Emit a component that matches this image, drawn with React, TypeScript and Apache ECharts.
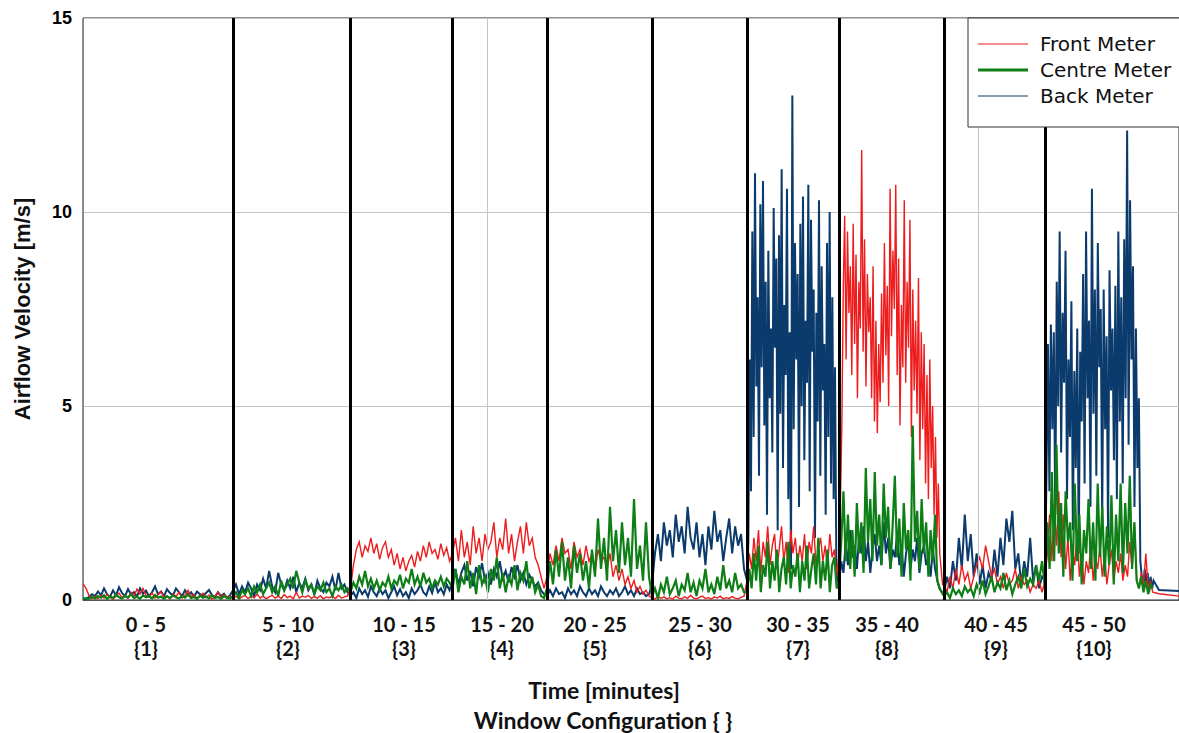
import React, { useEffect, useRef } from 'react';
import * as echarts from 'echarts';

// Time axis (minutes): start of each window configuration, end of the record
const windowStarts = [0, 7.5, 13.375, 18.475, 23.2, 28.45, 33.2, 37.8, 43.05, 48.1];
const recordEnd = 53.6;
const axisEnd = 54.8;

// Window labels shown under the time axis
const windowRanges = ['0 - 5', '5 - 10', '10 - 15', '15 - 20', '20 - 25', '25 - 30', '30 - 35', '35 - 40', '40 - 45', '45 - 50'];
const windowConfigs = ['{1}', '{2}', '{3}', '{4}', '{5}', '{6}', '{7}', '{8}', '{9}', '{10}'];
const labelTimes = [3.15, 10.25, 16.05, 20.95, 25.6, 30.85, 35.75, 40.2, 45.65, 50.55];
const dividerTimes = windowStarts.slice(1);
const gridTimes = [20.2, 44.75];

// Velocity axis (m/s)
const yMin = 0;
const yMax = 15;
const yStep = 5;

// Front meter readings, one list per window
const frontW1 = [0.42, 0.3, 0.12, 0.03, 0.1, 0.03, 0.12, 0.05, 0.15, 0.08, 0.02, 0.1, 0.18, 0.06, 0.12, 0.04, 0.2, 0.1, 0.28, 0.15, 0.3, 0.12, 0.08, 0.18, 0.05, 0.14, 0.22, 0.07, 0.1, 0.03, 0.16, 0.09, 0.2, 0.05, 0.12, 0.25, 0.08, 0.15, 0.04, 0.1, 0.18, 0.06, 0.13, 0.02, 0.09, 0.2, 0.07, 0.14, 0.05, 0.1];
const frontW2 = [0.05, 0.1, 0.03, 0.08, 0.12, 0.04, 0.1, 0.06, 0.15, 0.05, 0.1, 0.03, 0.08, 0.12, 0.05, 0.1, 0.04, 0.14, 0.06, 0.1, 0.03, 0.2, 0.05, 0.1, 0.07, 0.12, 0.04, 0.09, 0.05, 0.11, 0.03, 0.08, 0.06, 0.1, 0.04, 0.12, 0.05, 0.08, 0.1];
const frontW3 = [0.3, 0.9, 1.3, 1.5, 1.1, 1.4, 1.25, 1.6, 1.2, 1.45, 1.05, 1.35, 1.5, 1.1, 1.3, 0.9, 1.2, 0.8, 1.1, 0.75, 1.0, 1.15, 0.85, 1.25, 1.0, 1.4, 1.1, 1.5, 1.2, 1.3, 1.05, 1.45, 1.15, 1.35, 1.0];
const frontW4 = [1.2, 1.6, 1.0, 1.8, 1.1, 1.5, 0.9, 1.9, 1.2, 1.6, 1.0, 1.7, 1.3, 1.5, 2.0, 1.1, 1.6, 1.3, 2.1, 1.2, 1.7, 1.0, 1.5, 1.9, 1.2, 2.0, 1.4, 1.6, 1.1, 0.9, 0.6, 0.3];
const frontW5 = [0.6, 1.2, 0.9, 1.4, 1.0, 1.6, 1.2, 1.3, 0.8, 1.5, 1.1, 1.3, 0.9, 1.4, 1.0, 1.2, 0.7, 1.3, 1.0, 1.1, 0.8, 1.2, 0.6, 0.9, 0.5, 0.8, 0.4, 0.6, 0.3, 0.5, 0.2, 0.35, 0.15, 0.25, 0.1];
const frontW6 = [0.05, 0.02, 0.1, 0.04, 0.08, 0.03, 0.06, 0.02, 0.1, 0.05, 0.03, 0.08, 0.04, 0.12, 0.05, 0.03, 0.07, 0.1, 0.04, 0.06, 0.02, 0.08, 0.05, 0.1, 0.03, 0.06, 0.04, 0.09, 0.05, 0.03, 0.07, 0.1];
const frontW7 = [0.5, 1.2, 0.8, 1.6, 1.0, 1.8, 0.7, 1.5, 1.1, 1.9, 0.9, 1.4, 1.7, 0.8, 1.3, 1.9, 1.0, 1.5, 0.7, 1.8, 1.2, 1.6, 0.9, 1.4, 1.0, 1.7, 0.8, 1.5, 1.2, 1.9, 0.9, 1.3, 1.6, 1.0, 1.4, 0.8, 1.7, 1.1, 1.3, 0.6];
const frontW8 = [1.2, 2.5, 4.5, 8.0, 9.9, 6.2, 9.5, 7.4, 8.6, 5.8, 9.7, 6.6, 8.9, 5.2, 8.2, 7.0, 11.6, 6.4, 9.3, 5.5, 8.4, 6.9, 7.8, 5.2, 8.6, 4.6, 7.2, 4.3, 6.6, 5.1, 7.9, 5.6, 9.2, 6.3, 8.1, 5.0, 10.6, 6.8, 9.0, 7.5, 10.7, 5.8, 8.8, 4.5, 7.6, 6.0, 10.3, 5.6, 8.2, 6.5, 9.8, 4.2, 8.0, 5.4, 7.2, 4.8, 8.3, 3.6, 6.9, 4.4, 6.6, 3.0, 5.8, 2.6, 6.2, 3.4, 5.0, 2.2, 4.2, 1.6, 3.0, 1.2, 0.8, 0.4];
const frontW9 = [0.4, 0.2, 0.6, 0.3, 0.8, 0.4, 0.9, 0.5, 0.7, 0.3, 0.6, 0.9, 1.1, 0.8, 1.4, 1.0, 0.6, 0.8, 0.4, 0.6, 0.3, 0.7, 0.4, 0.5, 0.8, 0.3, 0.6, 0.4, 0.5, 0.2, 0.4, 0.3, 0.5, 0.2];
const frontW10 = [0.5, 1.2, 2.2, 1.0, 2.5, 1.4, 2.8, 1.1, 2.2, 0.8, 1.6, 0.5, 1.3, 0.9, 1.8, 0.6, 1.2, 0.4, 1.0, 0.7, 1.5, 0.5, 1.1, 0.8, 1.4, 0.6, 1.2, 0.4, 0.9, 1.3, 0.5, 1.0, 0.7, 1.2, 0.5, 0.9, 0.6, 1.5, 0.8, 2.0, 0.5, 0.3, 0.7, 0.4, 1.2, 0.3, 0.5, 0.2];

// Centre meter readings, one list per window
const centreW1 = [0.02, 0.05, 0.03, 0.08, 0.04, 0.1, 0.06, 0.12, 0.03, 0.09, 0.05, 0.14, 0.07, 0.04, 0.11, 0.06, 0.15, 0.05, 0.09, 0.03, 0.12, 0.07, 0.1, 0.04, 0.13, 0.06, 0.09, 0.03, 0.1, 0.05, 0.12, 0.07, 0.04, 0.1, 0.06, 0.14, 0.05, 0.08, 0.03, 0.11, 0.06, 0.09, 0.04, 0.12, 0.05, 0.08, 0.03, 0.1, 0.06, 0.04];
const centreW2 = [0.1, 0.2, 0.05, 0.25, 0.15, 0.3, 0.1, 0.35, 0.2, 0.4, 0.15, 0.3, 0.45, 0.2, 0.35, 0.1, 0.5, 0.25, 0.4, 0.55, 0.3, 0.75, 0.45, 0.2, 0.5, 0.3, 0.4, 0.15, 0.35, 0.25, 0.45, 0.2, 0.3, 0.1, 0.35, 0.25, 0.4, 0.2, 0.3];
const centreW3 = [0.2, 0.45, 0.3, 0.6, 0.4, 0.75, 0.35, 0.55, 0.3, 0.5, 0.25, 0.45, 0.35, 0.6, 0.3, 0.5, 0.4, 0.65, 0.3, 0.55, 0.45, 0.8, 0.4, 0.6, 0.35, 0.7, 0.45, 0.55, 0.3, 0.5, 0.4, 0.6, 0.35, 0.55, 0.45];
const centreW4 = [0.3, 0.8, 0.2, 0.6, 0.4, 1.0, 0.3, 0.7, 0.15, 0.9, 0.4, 0.6, 0.2, 0.8, 0.5, 1.1, 0.3, 0.7, 0.2, 0.6, 0.4, 0.9, 0.25, 0.7, 0.5, 1.0, 0.3, 0.6, 0.2, 0.4, 0.1, 0.05];
const centreW5 = [0.3, 1.0, 0.4, 1.3, 0.6, 1.5, 0.5, 1.1, 0.3, 1.4, 0.7, 1.2, 0.5, 1.0, 0.3, 1.3, 0.6, 2.1, 0.8, 1.6, 0.5, 2.4, 1.0, 1.8, 0.7, 2.0, 0.9, 1.6, 0.6, 2.6, 0.8, 1.4, 0.5, 2.0, 0.6];
const centreW6 = [0.1, 0.3, 0.05, 0.4, 0.2, 0.6, 0.15, 0.3, 0.5, 0.1, 0.4, 0.25, 0.7, 0.2, 0.45, 0.1, 0.5, 0.3, 0.8, 0.2, 0.4, 0.15, 0.6, 0.25, 0.9, 0.3, 0.5, 0.2, 0.7, 0.3, 0.4, 0.2];
const centreW7 = [0.2, 0.8, 0.3, 1.2, 0.5, 1.4, 0.2, 0.9, 0.6, 1.5, 0.3, 1.0, 0.5, 1.3, 0.2, 0.8, 1.1, 0.4, 1.5, 0.3, 0.9, 0.6, 1.2, 0.2, 1.0, 0.5, 1.4, 0.3, 0.8, 1.2, 0.4, 1.6, 0.3, 1.0, 0.5, 1.3, 0.2, 0.9, 1.1, 0.3];
const centreW8 = [0.5, 1.5, 2.8, 1.0, 2.2, 0.8, 1.8, 0.6, 2.5, 1.2, 2.0, 0.7, 3.4, 1.5, 2.6, 1.0, 3.3, 1.4, 2.2, 0.9, 3.0, 1.6, 2.4, 0.8, 1.9, 3.2, 1.1, 2.1, 0.6, 2.5, 1.3, 1.8, 0.5, 4.5, 1.5, 2.3, 0.8, 2.6, 1.2, 2.0, 0.6, 1.8, 1.0, 2.2, 0.5, 0.3, 0.2];
const centreW9 = [0.1, 0.2, 0.05, 0.3, 0.15, 0.25, 0.1, 0.35, 0.2, 0.3, 0.1, 0.4, 0.2, 0.5, 0.15, 0.35, 0.6, 0.2, 0.45, 0.3, 0.7, 0.25, 0.5, 0.15, 0.4, 0.6, 0.3, 0.8, 0.35, 0.55, 0.4, 0.9, 0.5, 1.0];
const centreW10 = [0.3, 2.0, 0.8, 3.3, 1.0, 4.0, 1.2, 2.5, 0.6, 2.8, 1.5, 2.0, 0.5, 3.0, 1.0, 2.2, 0.4, 1.8, 1.2, 2.6, 0.8, 2.0, 0.5, 3.0, 1.1, 2.4, 0.6, 1.9, 0.9, 2.7, 0.4, 2.2, 1.0, 3.0, 0.7, 2.5, 1.2, 3.2, 0.8, 2.0, 0.5, 0.3, 0.6, 0.2, 0.5, 0.15, 0.4, 0.3];

// Back meter readings, one list per window
const backW1 = [0.05, 0.02, 0.08, 0.15, 0.1, 0.22, 0.12, 0.3, 0.15, 0.08, 0.25, 0.12, 0.33, 0.18, 0.1, 0.28, 0.14, 0.2, 0.09, 0.3, 0.16, 0.24, 0.1, 0.2, 0.35, 0.15, 0.22, 0.1, 0.28, 0.18, 0.12, 0.3, 0.2, 0.1, 0.25, 0.14, 0.2, 0.08, 0.22, 0.15, 0.1, 0.18, 0.26, 0.12, 0.08, 0.2, 0.1, 0.16, 0.05, 0.12];
const backW2 = [0.25, 0.4, 0.15, 0.35, 0.2, 0.45, 0.3, 0.1, 0.4, 0.25, 0.55, 0.3, 0.75, 0.35, 0.2, 0.7, 0.4, 0.25, 0.5, 0.3, 0.6, 0.2, 0.45, 0.3, 0.55, 0.25, 0.4, 0.15, 0.5, 0.3, 0.2, 0.45, 0.35, 0.6, 0.25, 0.7, 0.3, 0.4, 0.2];
const backW3 = [0.1, 0.2, 0.05, 0.3, 0.15, 0.25, 0.08, 0.35, 0.2, 0.1, 0.3, 0.15, 0.25, 0.05, 0.2, 0.35, 0.12, 0.28, 0.1, 0.2, 0.05, 0.3, 0.15, 0.25, 0.4, 0.2, 0.12, 0.35, 0.18, 0.45, 0.2, 0.3, 0.15, 0.4, 0.25];
const backW4 = [0.5, 0.8, 0.4, 0.7, 0.9, 0.5, 0.75, 0.35, 0.85, 0.6, 0.95, 0.5, 0.7, 0.4, 0.8, 0.6, 1.0, 0.55, 0.75, 0.45, 0.85, 0.6, 0.9, 0.5, 0.7, 0.4, 0.65, 0.5, 0.35, 0.45, 0.25, 0.15];
const backW5 = [0.1, 0.25, 0.1, 0.3, 0.15, 0.2, 0.05, 0.3, 0.15, 0.25, 0.1, 0.35, 0.2, 0.1, 0.3, 0.15, 0.25, 0.1, 0.35, 0.2, 0.1, 0.25, 0.15, 0.3, 0.1, 0.2, 0.35, 0.15, 0.25, 0.1, 0.3, 0.15, 0.2, 0.1, 0.15];
const backW6 = [0.4, 1.2, 1.7, 1.0, 2.0, 1.4, 1.8, 1.1, 2.2, 1.5, 1.9, 1.2, 2.4, 1.6, 1.3, 2.0, 1.1, 1.7, 0.9, 1.9, 1.3, 2.3, 1.5, 1.8, 1.0, 1.6, 2.1, 1.2, 1.9, 1.4, 1.7, 0.8];
const backW7 = [0.5, 1.5, 6.2, 2.8, 9.5, 4.2, 11.0, 5.5, 7.8, 3.2, 10.2, 6.0, 10.8, 4.5, 8.2, 2.2, 9.0, 5.2, 7.0, 3.8, 10.1, 6.5, 8.8, 1.8, 9.4, 4.8, 11.1, 3.4, 7.6, 5.8, 10.6, 2.6, 6.9, 0.8, 13.0, 4.4, 9.2, 6.2, 8.4, 2.4, 9.7, 5.0, 10.4, 3.6, 7.2, 5.6, 10.7, 2.8, 9.8, 6.4, 8.0, 1.6, 7.4, 4.6, 10.3, 3.2, 8.6, 5.4, 6.6, 2.2, 9.2, 4.2, 10.0, 3.0, 7.8, 2.6, 6.0, 1.0, 0.5];
const backW8 = [0.4, 1.0, 0.7, 1.5, 0.9, 1.8, 1.1, 1.4, 0.8, 1.6, 1.2, 1.9, 1.0, 1.5, 0.7, 1.3, 1.7, 1.0, 1.4, 0.9, 2.0, 1.2, 1.6, 0.8, 1.3, 1.1, 1.7, 0.9, 1.4, 0.6, 1.2, 1.5, 0.8, 1.3, 1.0, 1.6, 0.7, 1.2, 1.4, 0.9, 1.1, 0.6, 1.3, 0.8, 0.5, 0.3, 0.2];
const backW9 = [0.2, 0.6, 0.3, 1.0, 0.5, 1.6, 0.8, 2.2, 1.0, 1.7, 0.6, 1.2, 0.4, 0.9, 0.3, 0.7, 0.5, 1.3, 0.6, 1.6, 0.9, 2.1, 1.5, 2.3, 0.8, 1.2, 0.4, 1.0, 0.6, 1.6, 0.5, 0.9, 0.3, 0.6];
const backW10 = [0.5, 3.2, 6.6, 2.8, 7.1, 4.4, 6.9, 2.2, 8.2, 5.0, 9.5, 3.8, 7.4, 5.6, 9.0, 2.6, 6.2, 4.2, 7.7, 1.8, 5.9, 3.4, 7.0, 1.2, 6.4, 4.6, 8.4, 3.0, 9.5, 5.2, 7.2, 2.4, 10.6, 4.8, 8.0, 3.2, 9.2, 6.0, 7.5, 2.0, 8.0, 4.4, 6.8, 1.6, 8.5, 5.4, 7.0, 3.6, 8.1, 2.6, 9.5, 4.6, 7.8, 3.0, 9.3, 5.2, 12.1, 4.0, 10.3, 6.2, 8.6, 2.4, 7.0, 3.4, 5.2, 1.0, 0.6, 0.3, 0.8, 0.4, 0.7, 0.2, 0.6, 0.3, 0.5];

// Readings after the last window
const tailTimes = [53.8, 54.8];
const frontTail = [0.16, 0.1];
const backTail = [0.26, 0.23];

const frontWindows = [frontW1, frontW2, frontW3, frontW4, frontW5, frontW6, frontW7, frontW8, frontW9, frontW10];
const centreWindows = [centreW1, centreW2, centreW3, centreW4, centreW5, centreW6, centreW7, centreW8, centreW9, centreW10];
const backWindows = [backW1, backW2, backW3, backW4, backW5, backW6, backW7, backW8, backW9, backW10];

const RED = '#ee1c1c';
const GREEN = '#0e7f16';
const NAVY = '#0b3a6c';

// Readings in each window are evenly spaced over that window's time span
function toPoints(windows: number[][], tail: number[]): number[][] {
  const pts: number[][] = [];
  windows.forEach((vals, w) => {
    const start = windowStarts[w];
    const end = w + 1 < windowStarts.length ? windowStarts[w + 1] : recordEnd;
    const step = (end - start) / vals.length;
    vals.forEach((v, j) => pts.push([start + j * step, v]));
  });
  tail.forEach((v, i) => pts.push([tailTimes[i], v]));
  return pts;
}

const titleFont = { fontFamily: 'Lato', fontWeight: 'bold' as const, fontSize: 23, fill: '#111' };

export default function App() {
  const ref = useRef<HTMLDivElement>(null);

  useEffect(() => {
    if (!ref.current) return;
    const chart = echarts.init(ref.current, undefined, { renderer: 'svg' });

    const meterLine = (name: string, color: string, width: number, z: number, data: number[][]) => ({
      name,
      type: 'line',
      data,
      z,
      showSymbol: false,
      symbol: 'none',
      color,
      lineStyle: { color, width, join: 'miter' },
      emphasis: { disabled: true },
      silent: true,
    });

    chart.setOption({
      animation: false,
      backgroundColor: '#fff',
      grid: {
        left: 83,
        top: 18,
        right: -2,
        bottom: 133,
        show: true,
        borderColor: '#222',
        borderWidth: 1,
      },
      xAxis: {
        type: 'value',
        min: 0,
        max: axisEnd,
        axisLine: { show: true, lineStyle: { color: '#555', width: 1 } },
        axisTick: { show: false },
        splitLine: { show: false },
        axisLabel: {
          customValues: labelTimes,
          margin: 12,
          fontFamily: 'Lato',
          fontWeight: 'bold',
          fontSize: 20,
          lineHeight: 24,
          color: '#111',
          formatter: (v: number) => {
            const i = labelTimes.findIndex((t) => Math.abs(t - v) < 1e-6);
            return i < 0 ? '' : windowRanges[i] + '\n' + windowConfigs[i];
          },
        },
      },
      yAxis: {
        type: 'value',
        min: yMin,
        max: yMax,
        interval: yStep,
        name: 'Airflow Velocity [m/s]',
        nameLocation: 'middle',
        nameGap: 50,
        nameTextStyle: {
          fontFamily: 'Liberation Sans',
          fontWeight: 'bold',
          fontSize: 22,
          color: '#111',
        },
        axisLine: { show: true, lineStyle: { color: '#888', width: 1 } },
        axisTick: { show: false },
        splitLine: { show: true, lineStyle: { color: '#c4c4c4', width: 1 } },
        axisLabel: {
          margin: 11,
          fontFamily: 'Liberation Sans',
          fontWeight: 'bold',
          fontSize: 18,
          color: '#000',
        },
      },
      legend: {
        data: [
          { name: 'Front Meter', icon: 'path://M0,0H50V1H0Z' },
          { name: 'Centre Meter', icon: 'path://M0,0H50V3H0Z' },
          { name: 'Back Meter', icon: 'path://M0,0H50V1H0Z' },
        ],
        orient: 'vertical',
        left: 978,
        top: 34,
        padding: 0,
        itemWidth: 50,
        itemHeight: 3,
        itemGap: 6,
        selectedMode: false,
        z: 12,
        textStyle: {
          fontFamily: 'DejaVu Sans',
          fontSize: 20,
          lineHeight: 20,
          color: '#111',
          padding: [0, 0, 0, 7],
        },
      },
      graphic: [
        {
          type: 'rect',
          z: 11,
          shape: { x: 968, y: 18, width: 230, height: 109 },
          style: { fill: '#fff', stroke: '#333', lineWidth: 1 },
          silent: true,
        },
        {
          type: 'text',
          z: 11,
          x: 604,
          y: 690,
          style: { text: 'Time [minutes]', align: 'center', verticalAlign: 'middle', ...titleFont },
        },
        {
          type: 'text',
          z: 11,
          x: 603,
          y: 720,
          style: { text: 'Window Configuration { }', align: 'center', verticalAlign: 'middle', ...titleFont },
        },
      ],
      series: [
        {
          name: 'gridlines',
          type: 'line',
          data: [],
          z: 1,
          silent: true,
          markLine: {
            silent: true,
            symbol: ['none', 'none'],
            label: { show: false },
            emphasis: { disabled: true },
            lineStyle: { color: '#c4c4c4', width: 1, type: 'solid' },
            data: gridTimes.map((t) => ({ xAxis: t })),
          },
        },
        meterLine('Back Meter', NAVY, 2, 2, toPoints(backWindows, backTail)),
        meterLine('Front Meter', RED, 1.4, 3, toPoints(frontWindows, frontTail)),
        meterLine('Centre Meter', GREEN, 2.2, 4, toPoints(centreWindows, [])),
        {
          name: 'dividers',
          type: 'line',
          data: [],
          z: 6,
          silent: true,
          markLine: {
            silent: true,
            symbol: ['none', 'none'],
            label: { show: false },
            emphasis: { disabled: true },
            lineStyle: { color: '#000', width: 3, type: 'solid' },
            data: dividerTimes.map((t) => ({ xAxis: t })),
          },
        },
      ],
    });

    return () => chart.dispose();
  }, []);

  return (
    <div
      ref={ref}
      style={{ position: 'fixed', left: 0, top: 0, width: 1179, height: 733, background: '#fff' }}
    />
  );
}
